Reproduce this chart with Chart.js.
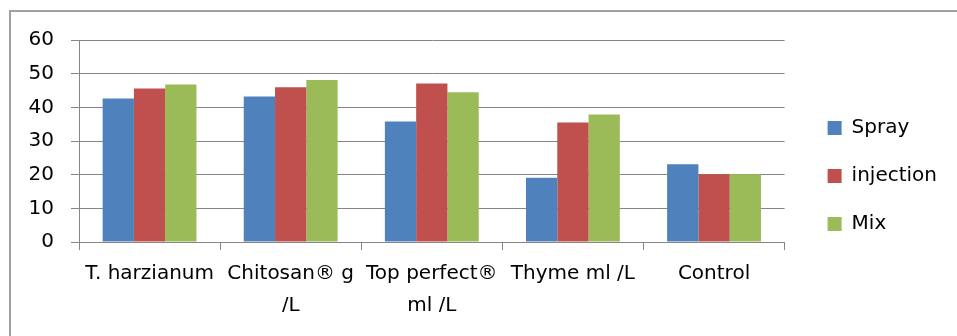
<!DOCTYPE html>
<html>
<head>
<meta charset="utf-8">
<script src="https://cdn.jsdelivr.net/npm/chart.js@4.4.1/dist/chart.umd.min.js"></script>
<style>
  html, body { margin: 0; padding: 0; background: #fff; }
  #wrap { position: relative; width: 957px; height: 336px; overflow: hidden; }
  #frame {
    position: absolute; left: 9px; top: 10px; width: 1000px; height: 400px;
    border-left: 2px solid #a0a0a0; border-top: 2px solid #a0a0a0;
  }
  #c { position: absolute; left: 0; top: 0; }
</style>
</head>
<body>
<div id="wrap">
  <div id="frame"></div>
  <canvas id="c" width="957" height="336"></canvas>
</div>
<script>
const categories = ['T. harzianum', ['Chitosan® g', '/L'], ['Top perfect®', 'ml /L'], 'Thyme ml /L', 'Control'];
const spray = [42.6, 43.2, 35.8, 19.1, 23.1];
const injection = [45.6, 46.0, 47.1, 35.5, 20.1];
const mix = [46.8, 48.1, 44.5, 37.9, 20.1];
const yTicks = [0, 10, 20, 30, 40, 50, 60];

const fontFamily = '"DejaVu Sans", sans-serif';
const gridColor = '#868686';
const legendShift = 15;

// nudge the legend to the right after layout, leaving a wider gap to the plot
const shiftLegend = {
    id: 'shiftLegend',
    afterLayout(chart) {
        if (chart.legend) {
            chart.legend.left += legendShift;
            chart.legend.right += legendShift;
        }
    }
};

new Chart(document.getElementById('c'), {
    type: 'bar',
    data: {
        labels: categories,
        datasets: [
            { label: 'Spray', data: spray, backgroundColor: '#4F81BD' },
            { label: 'injection', data: injection, backgroundColor: '#C0504D' },
            { label: 'Mix', data: mix, backgroundColor: '#9BBB59' }
        ]
    },
    options: {
        responsive: false,
        animation: false,
        layout: { padding: { top: 40, right: 25, bottom: 24, left: 0 } },
        datasets: { bar: { categoryPercentage: 0.665, barPercentage: 1 } },
        scales: {
            x: {
                grid: { display: true, drawOnChartArea: false, drawTicks: true, tickLength: 8, color: gridColor, offset: true },
                border: { color: gridColor },
                ticks: { color: '#000', padding: 8, maxRotation: 0, autoSkip: false, font: { family: fontFamily, size: 20, lineHeight: 1.6 } },
                afterFit: (s) => { s.height = 70; }
            },
            y: {
                min: 0, max: 60,
                afterBuildTicks: (s) => { s.ticks = yTicks.map(v => ({ value: v })); },
                grid: { color: gridColor, tickLength: 8 },
                border: { color: gridColor },
                ticks: { color: '#000', padding: 17, font: { family: fontFamily, size: 20 } },
                afterFit: (s) => { s.width = 79; }
            }
        },
        plugins: {
            tooltip: { enabled: false },
            legend: {
                position: 'right',
                labels: { boxWidth: 14, boxHeight: 14, padding: 28, color: '#000', font: { family: fontFamily, size: 20 } }
            }
        }
    },
    plugins: [shiftLegend]
});
</script>
</body>
</html>
